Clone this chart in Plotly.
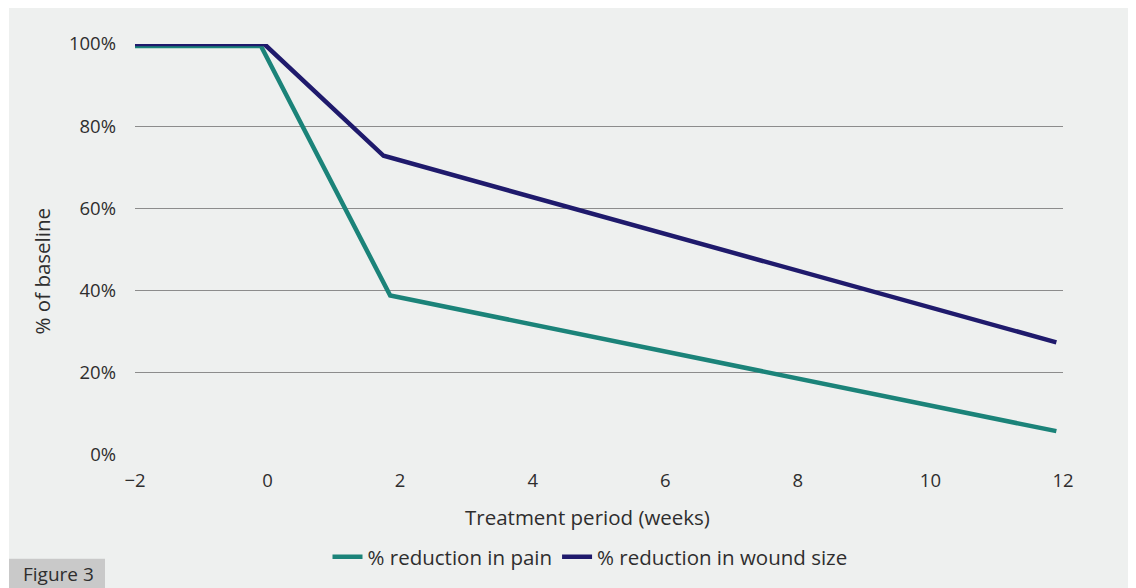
import plotly.graph_objects as go

weeks_pain = [-2, -0.1, 1.85, 11.9]
pain = [99.5, 99.5, 38.8, 5.8]
weeks_wound = [-2, -0.05, 1.75, 11.9]
wound = [100, 100, 72.8, 27.4]
x_ticks = [-2, 0, 2, 4, 6, 8, 10, 12]
x_tick_text = ["\u22122", "0", "2", "4", "6", "8", "10", "12"]
y_ticks = [0, 20, 40, 60, 80, 100]
y_tick_text = ["0%", "20%", "40%", "60%", "80%", "100%"]

FONT = "'Open Sans', Lato, sans-serif"
TXT = "#2e2e2e"
FS = 18.5
FT = 20.5

# page has an 8px body margin; work in screen pixels and convert
OFF = 8
W, H = 1136 - OFF, 588 - OFF
L, R, T, B = 135 - OFF, 1063 - OFF, 44 - OFF, 456 - OFF
pw, ph = R - L, B - T

def px(p):
    return (p - OFF - L) / pw

def py(p):
    return (B - (p - OFF)) / ph

fig = go.Figure()
fig.add_trace(go.Scatter(x=weeks_pain, y=pain, mode="lines", name="% reduction in pain",
                         line=dict(color="#1b8379", width=4.5)))
fig.add_trace(go.Scatter(x=weeks_wound, y=wound, mode="lines", name="% reduction in wound size",
                         line=dict(color="#1f1a6c", width=4.5)))

fig.add_shape(type="rect", xref="paper", yref="paper", layer="below",
              x0=px(9), x1=px(1133), y0=py(600), y1=py(7),
              fillcolor="#eef0ef", line=dict(width=0))
fig.add_shape(type="rect", xref="paper", yref="paper", layer="below",
              x0=px(9), x1=px(105), y0=py(600), y1=py(560),
              fillcolor="#c9c9c9", line=dict(width=0))
fig.add_annotation(xref="paper", yref="paper", x=px(58), y=py(575), text="Figure 3",
                   showarrow=False, font=dict(family=FONT, size=19, color=TXT),
                   xanchor="center", yanchor="middle")
fig.add_annotation(xref="paper", yref="paper", x=px(587), y=py(518),
                   text="Treatment period (weeks)", showarrow=False,
                   font=dict(family=FONT, size=FT, color=TXT),
                   xanchor="center", yanchor="middle")
fig.add_annotation(xref="paper", yref="paper", x=px(42), y=py(272),
                   text="% of baseline", showarrow=False, textangle=-90,
                   font=dict(family=FONT, size=FT, color=TXT),
                   xanchor="center", yanchor="middle")

fig.update_layout(
    width=W, height=H,
    margin=dict(l=L, r=W - R, t=T, b=H - B, pad=0),
    paper_bgcolor="white", plot_bgcolor="rgba(0,0,0,0)",
    font=dict(family=FONT, size=FS, color=TXT),
    showlegend=True,
    legend=dict(orientation="h", x=px(590), xanchor="center", y=py(557), yanchor="middle",
                bgcolor="rgba(0,0,0,0)", font=dict(size=FT, color=TXT),
                itemwidth=30, tracegroupgap=0),
    xaxis=dict(range=[-2, 12], tickvals=x_ticks, ticktext=x_tick_text, showgrid=False,
               zeroline=False, showline=False, ticks="", ticklabelstandoff=12),
    yaxis=dict(range=[0, 100], tickvals=y_ticks, ticktext=y_tick_text, showgrid=True,
               gridcolor="#8c8c8c", gridwidth=1, zeroline=False, showline=False, ticks="",
               ticklabelstandoff=18),
)
fig.write_html("out.html")
